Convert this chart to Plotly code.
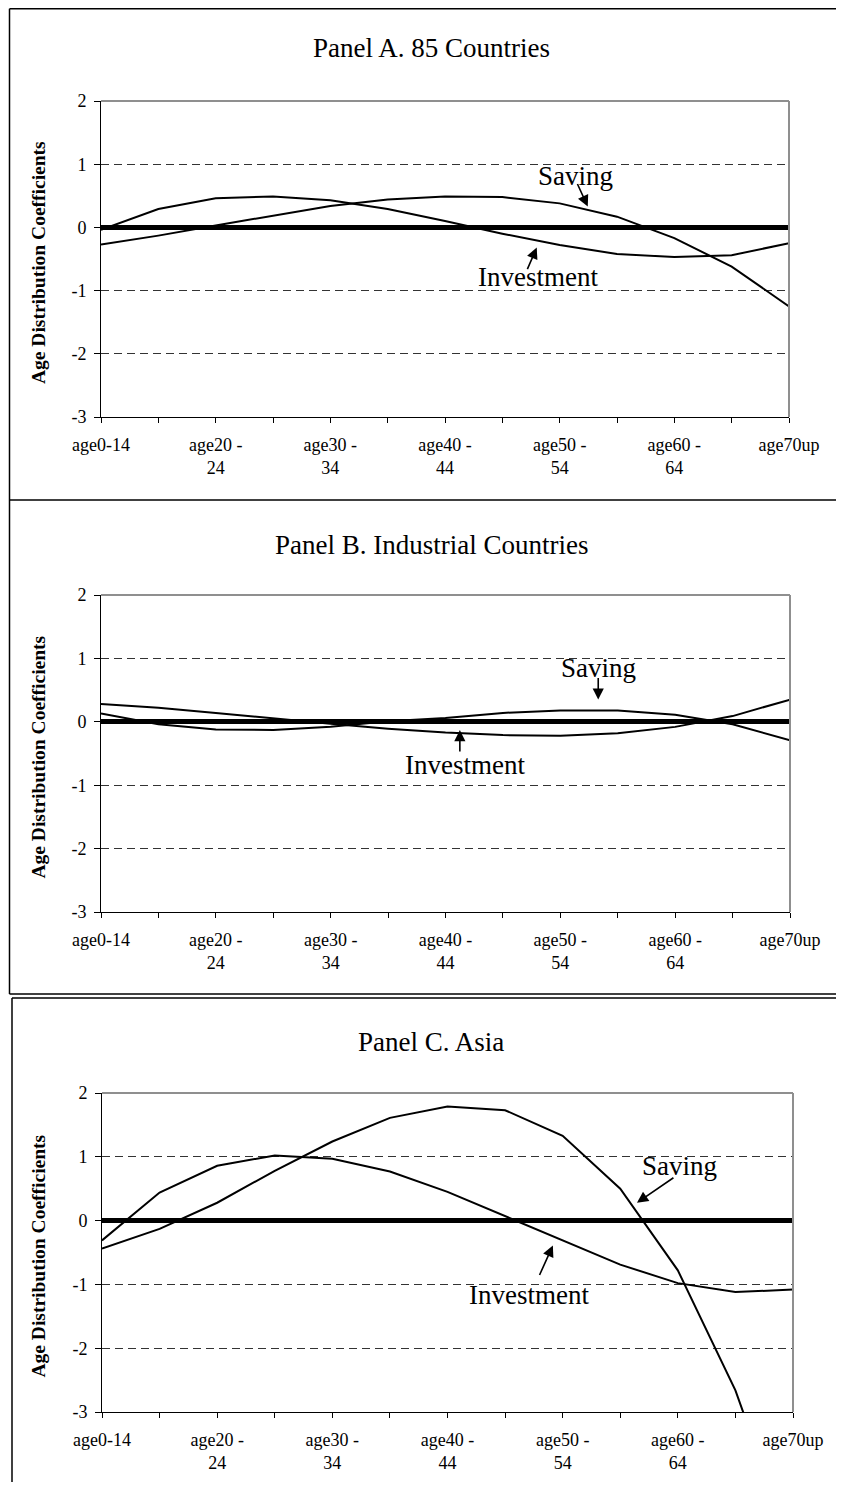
import plotly.graph_objects as go

# ---------------- data ----------------
categories = ["age0-14", "age15-19", "age20-24", "age25-29", "age30-34", "age35-39",
              "age40-44", "age45-49", "age50-54", "age55-59", "age60-64", "age65-69", "age70up"]
tick_labels = ["age0-14", "", "age20 -<br>24", "", "age30 -<br>34", "", "age40 -<br>44", "",
               "age50 -<br>54", "", "age60 -<br>64", "", "age70up"]

panel_titles = ["Panel A. 85 Countries", "Panel B. Industrial Countries", "Panel C. Asia"]
y_title = "Age Distribution Coefficients"

saving_a = [-0.27, -0.13, 0.03, 0.19, 0.34, 0.44, 0.49, 0.48, 0.38, 0.17, -0.17, -0.62, -1.25]
invest_a = [-0.04, 0.29, 0.46, 0.49, 0.43, 0.29, 0.10, -0.10, -0.28, -0.42, -0.47, -0.44, -0.25]

saving_b = [0.13, -0.04, -0.12, -0.13, -0.08, 0.01, 0.06, 0.14, 0.18, 0.18, 0.11, -0.04, -0.29]
invest_b = [0.28, 0.22, 0.14, 0.05, -0.03, -0.11, -0.17, -0.21, -0.22, -0.18, -0.08, 0.09, 0.35]

saving_c = [-0.44, -0.13, 0.28, 0.78, 1.24, 1.61, 1.79, 1.73, 1.33, 0.50, -0.78, -2.66, -5.2]
invest_c = [-0.31, 0.44, 0.86, 1.02, 0.97, 0.77, 0.45, 0.07, -0.32, -0.69, -0.98, -1.12, -1.08]

y_ticks = [-3, -2, -1, 0, 1, 2]
y_tick_text = ["-3", "-2", "-1", "0", "1", "2"]

# ---------------- layout geometry (page pixels) ----------------
PAGE_W, PAGE_H = 844, 1490
OX, OY = 8, 8                      # default body margin of the page
W, H = PAGE_W - 2 * OX, PAGE_H - 2 * OY   # figure fits the window without scrollbars
FONT = "Liberation Serif"

# plot areas: (left, right, top, bottom) in page pixels
plot_boxes = [(101, 789, 101, 417), (101, 790, 595, 912), (102, 793, 1093, 1412)]
title_y = [48, 545, 1042]

# label placements: (text, idx, value) and arrows: (tip idx, tip value, ax, ay)
labels = [
    [("Saving", 8.27, 0.82), ("Investment", 7.62, -0.79)],
    [("Saving", 8.66, 0.85), ("Investment", 6.34, -0.68)],
    [("Saving", 10.03, 0.85), ("Investment", 7.41, -1.16)],
]
arrows = [
    [(8.49, 0.33, -11, -24), (7.60, -0.32, -10, 23)],
    [(8.66, 0.35, 0, -23), (6.25, -0.13, 0, 23)],
    [(9.29, 0.28, 38, -26), (7.83, -0.39, -14, 31)],
]

series = [(saving_a, invest_a), (saving_b, invest_b), (saving_c, invest_c)]


def fx(p):
    return (p - OX) / W


def fy(p):
    return 1 - (p - OY) / H


fig = go.Figure()
layout = dict(width=W, height=H,
              margin=dict(l=0, r=0, t=0, b=0, pad=0, autoexpand=False),
              paper_bgcolor="white", plot_bgcolor="white", showlegend=False,
              template="none")
annotations = []
shapes = []

for i, (box, (sav, inv)) in enumerate(zip(plot_boxes, series)):
    n = "" if i == 0 else str(i + 1)
    xa, ya = "x" + n, "y" + n
    left, right, top, bottom = box
    for vals in (sav, inv):
        fig.add_trace(go.Scatter(x=categories, y=vals, mode="lines",
                                 line=dict(color="black", width=2),
                                 xaxis=xa, yaxis=ya, hoverinfo="skip"))
    layout["xaxis" + n] = dict(
        domain=[fx(left), fx(right)], anchor=ya, type="category",
        categoryorder="array", categoryarray=categories, range=[0, 12],
        tickmode="array", tickvals=categories, ticktext=tick_labels,
        ticks="outside", ticklen=5, tickwidth=1, tickcolor="black",
        showline=True, linecolor="black", linewidth=1,
        showgrid=False, zeroline=False, automargin=False,
        tickfont=dict(family=FONT, size=18, color="black"),
        ticklabelstandoff=6, fixedrange=True)
    layout["yaxis" + n] = dict(
        domain=[fy(bottom), fy(top)], anchor=xa, range=[-3, 2],
        tickmode="array", tickvals=y_ticks, ticktext=y_tick_text,
        ticks="outside", ticklen=6, tickwidth=1, tickcolor="black",
        showline=True, linecolor="black", linewidth=1,
        showgrid=True, gridcolor="#333333", gridwidth=1, griddash="8px,5px",
        zeroline=True, zerolinecolor="black", zerolinewidth=5, automargin=False,
        tickfont=dict(family=FONT, size=18, color="black"),
        ticklabelstandoff=4, fixedrange=True)

    # grey top/right border of the plot area
    for (x0, y0, x1, y1) in [(0, 1, 1, 1), (1, 0, 1, 1)]:
        shapes.append(dict(type="line", xref=xa + " domain", yref=ya + " domain",
                           x0=x0, y0=y0, x1=x1, y1=y1,
                           line=dict(color="#8f8f8f", width=2), layer="above"))

    # panel title
    annotations.append(dict(text=panel_titles[i], xref="paper", yref="paper",
                            x=fx(431), y=fy(title_y[i]), showarrow=False,
                            xanchor="center", yanchor="middle",
                            font=dict(family=FONT, size=27, color="black")))
    # y title
    annotations.append(dict(text="<b>" + y_title + "</b>", xref="paper", yref="paper",
                            x=fx(38), y=fy((top + bottom) / 2 + 4), showarrow=False,
                            textangle=-90, xanchor="center", yanchor="middle",
                            font=dict(family=FONT, size=19.5, color="black")))
    # series labels
    for (txt, lx, ly) in labels[i]:
        annotations.append(dict(text=txt, xref=xa, yref=ya, x=lx, y=ly,
                                showarrow=False, xanchor="center", yanchor="middle",
                                font=dict(family=FONT, size=27, color="black")))
    for (tx, tyv, ax, ay) in arrows[i]:
        annotations.append(dict(text="", xref=xa, yref=ya, x=tx, y=tyv,
                                showarrow=True, arrowhead=2, arrowsize=1.4,
                                arrowwidth=1.6, arrowcolor="black", ax=ax, ay=ay))

# panel frames (page pixels)
RIGHT = OX + W
BOTTOM = OY + H
frame_lines = [
    (9.5, 8.8, RIGHT, 8.8),      # top of panel A
    (9.5, 8.8, 9.5, 500),        # left panel A
    (9.5, 500, RIGHT, 500),      # A/B separator
    (9.5, 500, 9.5, 994),        # left panel B
    (9.5, 994, RIGHT, 994),      # bottom panel B
    (12, 998, RIGHT, 998),       # top panel C
    (12, 998, 12, BOTTOM),       # left panel C
]
for (x0, y0, x1, y1) in frame_lines:
    shapes.append(dict(type="line", xref="paper", yref="paper",
                       x0=fx(x0), y0=fy(y0), x1=fx(x1), y1=fy(y1),
                       line=dict(color="black", width=1.5), layer="above"))

layout["annotations"] = annotations
layout["shapes"] = shapes
fig.update_layout(**layout)
fig.write_html("out.html")
